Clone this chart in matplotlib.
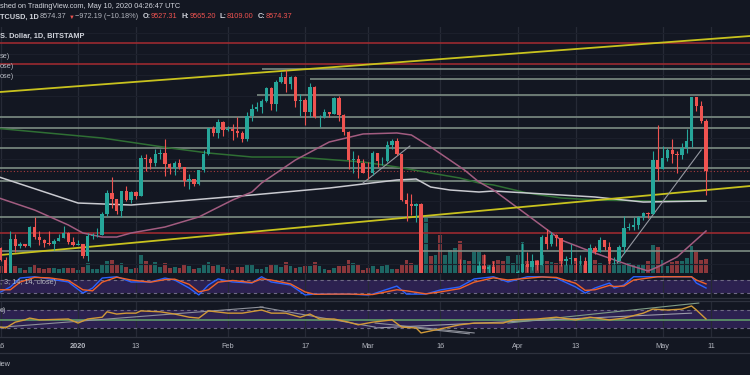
import matplotlib
matplotlib.use("Agg")
import matplotlib.pyplot as plt
from matplotlib import font_manager
import numpy as np

# TradingView's UI font is narrow; use Liberation Sans Narrow when it is there
_names = {f.name for f in font_manager.fontManager.ttflist}
if "Liberation Sans Narrow" in _names:
    plt.rcParams["font.family"] = ["Liberation Sans Narrow", "DejaVu Sans"]
    FS = 6.5
else:
    plt.rcParams["font.family"] = ["Liberation Sans", "DejaVu Sans"]
    FS = 5.3

# ---- data (day 0 = 1 Jan 2020) ----
first_day = -17  # 15 Dec 2019
opens = [
    7065, 7115, 6880, 6615, 7280, 7150, 7190, 7145, 7510, 7320, 7255, 7195, 7190, 7245, 7305, 7385, 7220,
    7170, 7175, 6945, 7340, 7350, 7355, 7760, 8150, 8045, 7820, 8190, 8020, 8180, 8105, 8820, 8810, 8720,
    8900, 8910, 8700, 8630, 8730, 8660, 8390, 8430, 8330, 8600, 8900, 9390, 9290, 9510,
    9350, 9380, 9340, 9290, 9180, 9620, 9760, 9800, 9900, 10160, 9860, 10270, 10360, 10240, 10370, 9900,
    9930, 9700, 10180, 9600, 9610, 9690, 9670, 9970, 9650, 9310, 8790, 8800, 8720,
    8540, 8530, 8910, 8760, 8760, 9070, 9150, 8900, 8030, 7940, 7900, 7940, 4860, 5570, 5160, 5360, 5020,
    5330, 5410, 6200, 6180, 6210, 5830, 6490, 6770, 6700, 6750, 6380, 6260, 5880, 6400,
    6420, 6650, 6810, 6740, 6860, 6780, 7320, 7190, 7360, 7290, 6860, 6890, 6910, 6850, 6860, 6620, 7110,
    7040, 7260, 7130, 6850, 6860, 7130, 7480, 7510, 7540, 7690, 7780, 7760, 8780,
    8620, 8830, 8970, 8890, 8880, 9020, 9150, 9980, 9810, 9527.31]
highs = [
    7200, 7135, 6940, 7440, 7370, 7220, 7190, 7518, 7695, 7430, 7270, 7430, 7270, 7370, 7520, 7410, 7325,
    7250, 7190, 7400, 7390, 7495, 7800, 8210, 8460, 8050, 8190, 8280, 8190, 8195, 8880, 8890, 8840, 9000,
    8990, 9180, 8720, 8760, 8800, 8660, 8510, 8430, 8600, 8980, 9400, 9430, 9560, 9530,
    9440, 9470, 9600, 9340, 9690, 9860, 9880, 9940, 10180, 10180, 10300, 10460, 10500, 10390, 10380, 10050,
    9960, 10250, 10200, 9650, 9760, 9700, 9980, 10000, 9660, 9330, 8960, 8870, 8800,
    8740, 8960, 8920, 8840, 9150, 9180, 9200, 8900, 8150, 8140, 7960, 7960, 5900, 5640, 5900, 5360, 5560,
    5450, 6400, 6900, 6450, 6400, 6600, 6850, 6990, 6780, 6860, 6400, 6260, 6600, 6520,
    6680, 7200, 7030, 6990, 6880, 7360, 7470, 7420, 7370, 7290, 6950, 7180, 6910, 6970, 6930, 7180, 7150,
    7310, 7260, 7220, 6940, 7160, 7720, 7590, 7700, 7710, 7800, 7790, 8960, 9460,
    9060, 9010, 9190, 8960, 9100, 9380, 9990, 9990, 9910, 9565.20]
lows = [
    7015, 6860, 6560, 6435, 7040, 7100, 7125, 7134, 7270, 7160, 7130, 7160, 7060, 7240, 7290, 7190, 7140,
    7155, 6910, 6860, 7270, 7310, 7350, 7720, 7870, 7760, 7690, 8000, 7960, 8050, 8095, 8575, 8610, 8670,
    8800, 8480, 8520, 8500, 8610, 8290, 8240, 8280, 8300, 8560, 8880, 9250, 9200, 9240,
    9330, 9170, 9230, 9120, 9150, 9530, 9720, 9680, 9890, 9730, 9720, 10250, 10080, 10140, 9800, 9620,
    9460, 9600, 9590, 9410, 9580, 9610, 9660, 9520, 9260, 8620, 8540, 8440, 8530,
    8420, 8500, 8660, 8680, 8750, 9000, 8870, 8000, 7630, 7740, 7600, 4780, 3850, 5100, 5090, 4440, 4940,
    5020, 5250, 5680, 5880, 5770, 5720, 6400, 6500, 6550, 6270, 6030, 5870, 5860, 6340,
    6170, 6600, 6640, 6680, 6680, 6780, 7080, 7150, 7150, 6760, 6780, 6810, 6580, 6780, 6610, 6480, 7000,
    7030, 7070, 6810, 6800, 6850, 7020, 7450, 7450, 7470, 7650, 7680, 7750, 8400,
    8620, 8760, 8730, 8530, 8800, 8920, 9040, 9710, 9480, 8109.00]
closes = [
    7115, 6880, 6615, 7280, 7150, 7190, 7145, 7510, 7320, 7255, 7195, 7190, 7245, 7305, 7385, 7220, 7170,
    7175, 6945, 7340, 7350, 7355, 7760, 8150, 8045, 7820, 8190, 8020, 8180, 8105, 8820, 8810, 8720, 8900,
    8910, 8700, 8630, 8730, 8660, 8390, 8430, 8330, 8600, 8900, 9390, 9290, 9510, 9350,
    9380, 9340, 9290, 9180, 9620, 9760, 9800, 9900, 10160, 9860, 10270, 10360, 10240, 10370, 9900, 9930,
    9700, 10180, 9600, 9610, 9690, 9670, 9970, 9650, 9310, 8790, 8800, 8720, 8540,
    8530, 8910, 8760, 8760, 9070, 9150, 8900, 8030, 7940, 7900, 7940, 4860, 5570, 5160, 5360, 5020, 5330,
    5410, 6200, 6180, 6210, 5830, 6490, 6770, 6700, 6750, 6380, 6260, 5880, 6400, 6420,
    6650, 6810, 6740, 6860, 6780, 7320, 7190, 7360, 7290, 6860, 6890, 6910, 6850, 6860, 6620, 7110, 7040,
    7260, 7130, 6850, 6860, 7130, 7480, 7510, 7540, 7690, 7780, 7760, 8780, 8620,
    8830, 8970, 8890, 8880, 9020, 9150, 9980, 9810, 9527.31, 8574.37]
# volume, read as bar height (pixels of the pane)
volumes = [
    5, 7, 9, 12, 7, 5, 3, 6, 8, 5, 4, 5, 5, 4, 5, 5, 5,
    3, 6, 10, 4, 4, 9, 12, 13, 8, 10, 6, 4, 5, 18, 12, 8, 11, 6, 10, 5, 6, 5, 8, 7, 4, 5, 9, 11, 7, 9, 6,
    4, 3, 6, 6, 9, 9, 4, 4, 6, 9, 8, 6, 11, 7, 5, 6, 7, 7, 11, 7, 4, 3, 5, 7, 7, 13, 10, 8, 3,
    5, 7, 4, 7, 8, 4, 4, 9, 13, 10, 8, 60, 55, 17, 18, 38, 18, 23, 25, 32, 13, 12, 21, 21, 18, 9, 12, 13,
    12, 17, 10,
    18, 31, 12, 12, 13, 18, 12, 11, 10, 12, 9, 8, 13, 12, 9, 22, 13, 10, 8, 13, 10, 10, 8, 10, 9, 8, 8,
    12, 28, 26,
    13, 7, 11, 12, 12, 15, 27, 21, 13, 14]

ma50_days = [-17, -9, -2, 1, 5, 8, 11, 18, 25, 32, 36, 38, 45, 52, 59, 66, 69, 73, 80, 83, 86, 93,
             100, 107, 114, 118, 120, 124, 130]
ma50_vals = [8080, 7831, 7545, 7393, 7316, 7316, 7393, 7507, 7698, 8022, 8174, 8346, 8784, 9127, 9280,
             9299, 9261, 9032, 8593, 8365, 8212, 7736, 7259, 7011, 6783, 6669, 6745, 6936, 7431]
ma100_days = [-17, 0, 11, 31, 36, 52, 66, 70, 73, 77, 83, 86, 93, 107, 117, 130]
ma100_vals = [8480, 7964, 7926, 8079, 8117, 8250, 8403, 8422, 8269, 8212, 8174, 8193, 8155, 8079, 7983,
              8003]
ma200_days = [-17, 5, 19, 27, 36, 45, 59, 66, 73, 79, 83, 86, 93, 100, 107, 118, 130]
ma200_vals = [9390, 9203, 9013, 8917, 8841, 8841, 8746, 8651, 8536, 8441, 8346, 8308, 8155, 8060, 8022,
              8003, 8003]

# horizontal levels: (price, first day)
grey_levels = [(10518, 38), (10328, 48), (10023, 37), (9604, -20), (9394, -20), (9013, -20),
               (8632, -20), (8384, -20), (7698, -20), (7050, -20)]
red_levels = [11014, 10614, 7393]
yellow_lines = [((-16.15, 10080), (139.1, 11147)), ((-16.15, 6973), (139.1, 8288))]
grey_trends = [((59, 8346), (68.7, 9051)), ((111.6, 6821), (129, 8975))]

stoch_days = [-16, -14, -12, -9, -6, -2, 1, 3, 5, 8, 11, 15, 18, 20, 23, 25, 27, 29, 32, 36, 38, 40, 44,
              47, 49, 53, 56, 60, 61, 66, 68, 72, 75, 79, 82, 86, 89, 93, 96, 99, 103, 105, 107, 110,
              111, 113, 115, 120, 127, 128, 130]
stoch_k = [25, 48, 89, 95, 85, 71, 20, 43, 89, 95, 71, 71, 89, 80, 43, 11, 57, 85, 71, 66, 95, 71, 57,
           11, 15, 15, 15, 11, 15, 52, 15, 15, 34, 48, 85, 95, 71, 95, 95, 89, 48, 20, 43, 66, 43, 57,
           95, 95, 95, 66, 43]
stoch_d = [35, 35, 70, 92, 90, 78, 35, 30, 70, 93, 80, 70, 82, 84, 60, 25, 35, 70, 78, 68, 85, 80, 62,
           25, 14, 15, 15, 13, 13, 35, 30, 16, 25, 40, 70, 90, 80, 88, 94, 92, 65, 32, 35, 55, 50, 52,
           80, 95, 95, 80, 62]

rsi_days = [-16, -15, -13, -11, -10, -8, -2, 0, 2, 5, 6, 8, 10, 12, 13, 17, 20, 23, 25, 27, 31, 34, 38,
            40, 43, 46, 48, 50, 53, 56, 58, 60, 61, 65, 67, 70, 71, 75, 79, 82, 88, 90, 95, 99, 103,
            106, 110, 113, 117, 119, 122, 125, 127, 128, 130]
rsi_vals = [32, 30, 43, 48, 52, 48, 50, 41, 50, 54, 66, 61, 63, 63, 68, 66, 61, 54, 52, 68, 63, 63, 70,
            63, 63, 54, 61, 50, 50, 43, 37, 41, 43, 48, 32, 30, 19, 28, 37, 41, 41, 48, 50, 54, 48, 54,
            48, 52, 63, 72, 70, 72, 79, 70, 50]
rsi_trends = [((-16.1, 31.6), (38.3, 76.7), "#8d909a"), ((37.7, 76.7), (61.5, 32), "#8d909a"),
              ((61.5, 41), (82, 19), "#8d909a"), ((70, 30), (81, 17), "#8d909a"),
              ((61.5, 30), (127, 63), "#9a9aa8"), ((89, 41), (128.5, 85.5), "#7f9c86")]

tick_days = [-16, 0, 12, 31, 47, 60, 75, 91, 103, 121, 131]
tick_labels = ["16", "2020", "13", "Feb", "17", "Mar", "16", "Apr", "13", "May", "11"]

# ---- style ----
BG = "#131722"
UP, DN = "#26a69a", "#ef5350"
TXT, TXT2 = "#d1d4dc", "#b2b5be"
GRID = "#262a36"
W, H = 750, 375
X0, X1 = -16.15, 139.1
PX = 1000 / 52.47  # price per pixel in the main pane

days = np.arange(first_day, first_day + len(opens))
o, h, l, c = map(np.array, (opens, highs, lows, closes))

fig = plt.figure(figsize=(7.5, 3.75), dpi=100)
fig.patch.set_facecolor(BG)


def pane(top, bottom, face=BG):
    ax = fig.add_axes([0, 1 - bottom / H, 1, (bottom - top) / H])
    ax.set_facecolor(face)
    ax.set_xlim(X0, X1)
    for s in ax.spines.values():
        s.set_visible(False)
    ax.set_xticks([])
    ax.set_yticks([])
    return ax


def ftext(x, y, s, **kw):
    kw.setdefault("fontsize", FS)
    fig.text(x / W, 1 - y / H, s, va="center", ha="left", **kw)


# volume pane (background)
vax = pane(27, 273)
vax.set_ylim(0, 246)
for d in tick_days:
    vax.axvline(d, color=GRID, lw=0.9)
up = c >= o
vax.bar(days, volumes, width=0.78, color=np.where(up, UP, DN), alpha=0.55, linewidth=0)

# main price pane on top
ax = pane(27, 273, face="none")
ax.set_ylim(8574.37 - 102 * PX, 8574.37 + 144 * PX)
for p in np.arange(6800, 11400, 400):
    ax.axhline(p, color="#1b1f2b", lw=0.8, zorder=0)
for p, d0 in grey_levels:
    ax.hlines(p, d0, X1, color="#84958a", lw=1.3, alpha=0.85, zorder=1)
for p in red_levels:
    ax.axhline(p, color="#9a2a30", lw=1.2, zorder=1)
ax.axhline(8574.37, color="#a83a3d", lw=0.8, ls=(0, (1, 2)), zorder=1)

ax.plot(ma200_days, ma200_vals, color="#2f6f34", lw=1.1, zorder=2)
ax.plot(ma100_days, ma100_vals, color="#c9cad0", lw=1.1, zorder=2)
ax.plot(ma50_days, ma50_vals, color="#a25c80", lw=1.1, zorder=2)
for (xa, ya), (xb, yb) in yellow_lines:
    ax.plot([xa, xb], [ya, yb], color="#c8c21e", lw=1.3, zorder=3)
for (xa, ya), (xb, yb) in grey_trends:
    ax.plot([xa, xb], [ya, yb], color="#9598a1", lw=0.8, zorder=3)

col = np.where(up, UP, DN)
ax.vlines(days, l, h, colors=col, lw=0.8, zorder=4)
ax.bar(days, np.maximum(np.abs(c - o), 12), bottom=np.minimum(o, c), width=0.7, color=col,
       linewidth=0, zorder=5)

# stochastic RSI pane
sax = pane(274, 298)
sax.set_ylim(-3.07, 107.7)
for d in tick_days:
    sax.axvline(d, color=GRID, lw=0.9)
sax.axhspan(20, 80, color="#2c2150", lw=0)
sax.axhline(80, color="#6f6a85", lw=0.8, ls=(0, (3, 3)))
sax.axhline(20, color="#6f6a85", lw=0.8, ls=(0, (3, 3)))
sax.plot(stoch_days, stoch_k, color="#2962ff", lw=1.0)
sax.plot(stoch_days, stoch_d, color="#f0622a", lw=1.0)

# RSI pane
rax = pane(301, 337)
rax.set_ylim(10, 90)
for d in tick_days:
    rax.axvline(d, color=GRID, lw=0.9)
rax.axhspan(30, 70, color="#2c2150", lw=0)
rax.axhline(70, color="#6f6a85", lw=0.8, ls=(0, (3, 3)))
rax.axhline(30, color="#6f6a85", lw=0.8, ls=(0, (3, 3)))
rax.axhline(48, color="#5f9a6a", lw=1.2)
for (xa, ya), (xb, yb), cc in rsi_trends:
    rax.plot([xa, xb], [ya, yb], color=cc, lw=0.8)
rax.plot(rsi_days, rsi_vals, color="#d19a38", lw=1.0)

# pane separators
for y in (298, 301, 337, 353):
    fig.add_artist(plt.Line2D([0, 1], [1 - y / H] * 2, color="#2e323e", lw=0.9))

# date axis
for d, lab in zip(tick_days, tick_labels):
    fig.text((d - X0) / (X1 - X0), 1 - 347 / H, lab, ha="center", va="center", fontsize=FS,
             color=TXT2, fontweight="bold" if lab == "2020" else "normal")

# header texts
ftext(0, 7, "shed on TradingView.com, May 10, 2020 04:26:47 UTC", color=TXT)
hdr = [(0, "TCUSD, 1D", TXT, "bold"), (40, "8574.37", TXT2, "normal"), (69, "▼", DN, "normal"),
       (75, "−972.19 (−10.18%)", TXT2, "normal"), (143, "O:", TXT, "bold"),
       (151, "9527.31", DN, "normal"), (182, "H:", TXT, "bold"), (190, "9565.20", DN, "normal"),
       (220, "L:", TXT, "bold"), (227, "8109.00", DN, "normal"), (258, "C:", TXT, "bold"),
       (266, "8574.37", DN, "normal")]
for x, s, cc, wt in hdr:
    ftext(x, 17, s, color=cc, fontweight=wt, fontsize=FS * 0.8 if s == "▼" else FS)
ftext(0, 36, "S. Dollar, 1D, BITSTAMP", color=TXT, fontweight="bold")
ftext(0, 56, "se)", color=TXT2)
ftext(0, 66, "ose)", color=TXT2)
ftext(0, 76, "ose)", color=TXT2)
ftext(0, 283, ", 3, 14, 14, close)", color=TXT2)
ftext(0, 310, "e)", color=TXT2)
ftext(0, 364, "iew", color=TXT2)

fig.savefig("out.png", dpi=100, facecolor=BG)
